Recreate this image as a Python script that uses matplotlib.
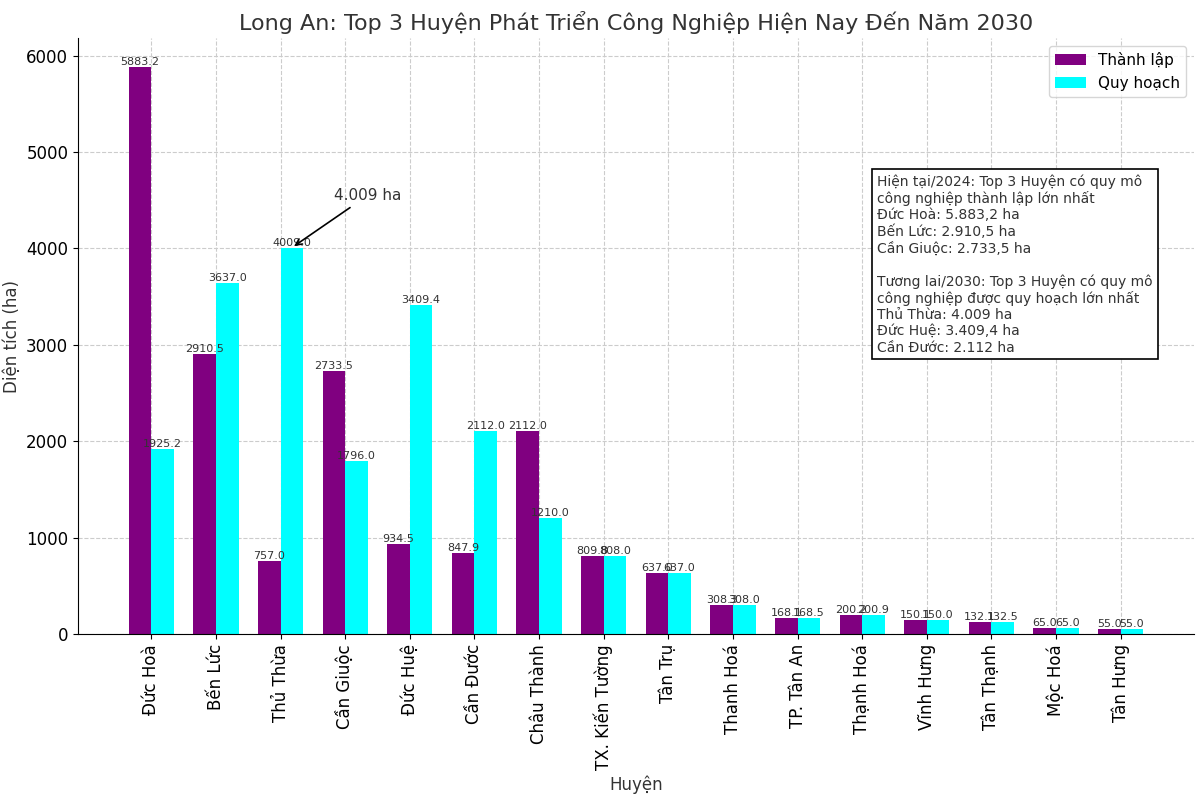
import numpy as np
import matplotlib.pyplot as plt

huyen = ['Đức Hoà', 'Bến Lức', 'Thủ Thừa', 'Cần Giuộc', 'Đức Huệ', 'Cần Đước',
         'Châu Thành', 'TX. Kiến Tường', 'Tân Trụ', 'Thanh Hoá', 'TP. Tân An',
         'Thạnh Hoá', 'Vĩnh Hưng', 'Tân Thạnh', 'Mộc Hoá', 'Tân Hưng']
thanh_lap = [5883.2, 2910.5, 757.0, 2733.5, 934.5, 847.9, 2112.0, 809.8, 637.0,
             308.3, 168.1, 200.2, 150.1, 132.1, 65.0, 55.0]
quy_hoach = [1925.2, 3637.0, 4009.0, 1796.0, 3409.4, 2112.0, 1210.0, 808.0, 637.0,
             308.0, 168.5, 200.9, 150.0, 132.5, 65.0, 55.0]

note = ('Hiện tại/2024: Top 3 Huyện có quy mô\n'
        'công nghiệp thành lập lớn nhất\n'
        'Đức Hoà: 5.883,2 ha\n'
        'Bến Lức: 2.910,5 ha\n'
        'Cần Giuộc: 2.733,5 ha\n'
        '\n'
        'Tương lai/2030: Top 3 Huyện có quy mô\n'
        'công nghiệp được quy hoạch lớn nhất\n'
        'Thủ Thừa: 4.009 ha\n'
        'Đức Huệ: 3.409,4 ha\n'
        'Cần Đước: 2.112 ha')

x = np.arange(len(huyen))
w = 0.35

fig, ax = plt.subplots(figsize=(12, 8), dpi=100)
b1 = ax.bar(x - w/2, thanh_lap, w, color='purple', label='Thành lập')
b2 = ax.bar(x + w/2, quy_hoach, w, color='cyan', label='Quy hoạch')

# nhãn giá trị trên mỗi cột
for bars in (b1, b2):
    for b in bars:
        h = b.get_height()
        ax.text(b.get_x() + b.get_width()/2, h, f'{h:.1f}', ha='center', va='bottom',
                fontsize=8, color='#333333')

ax.annotate('4.009 ha', xy=(x[2] + w/2, quy_hoach[2]), xytext=(2.82, 4500),
            fontsize=11, color='#333333',
            arrowprops=dict(arrowstyle='->', color='black', lw=1.2))

ax.text(0.716, 0.772, note, transform=ax.transAxes, fontsize=10, va='top', ha='left',
        color='#333333', linespacing=1.2,
        bbox=dict(boxstyle='square,pad=0.35', facecolor='white', edgecolor='black', lw=1.2))

ax.set_title('Long An: Top 3 Huyện Phát Triển Công Nghiệp Hiện Nay Đến Năm 2030',
             fontsize=16, color='#333333')
ax.set_xlabel('Huyện', fontsize=12, color='#333333')
ax.set_ylabel('Diện tích (ha)', fontsize=12, color='#333333')
ax.set_xticks(x)
ax.set_xticklabels(huyen, rotation=90, fontsize=12)
ax.tick_params(axis='y', labelsize=12)
ax.grid(True, linestyle='--', color='#cccccc', linewidth=0.8)
ax.set_axisbelow(True)
ax.spines['top'].set_visible(False)
ax.spines['right'].set_visible(False)
ax.legend(loc='upper right', fontsize=11)

plt.subplots_adjust(left=0.065, right=0.995, top=0.952, bottom=0.207)
plt.savefig('out.png')
